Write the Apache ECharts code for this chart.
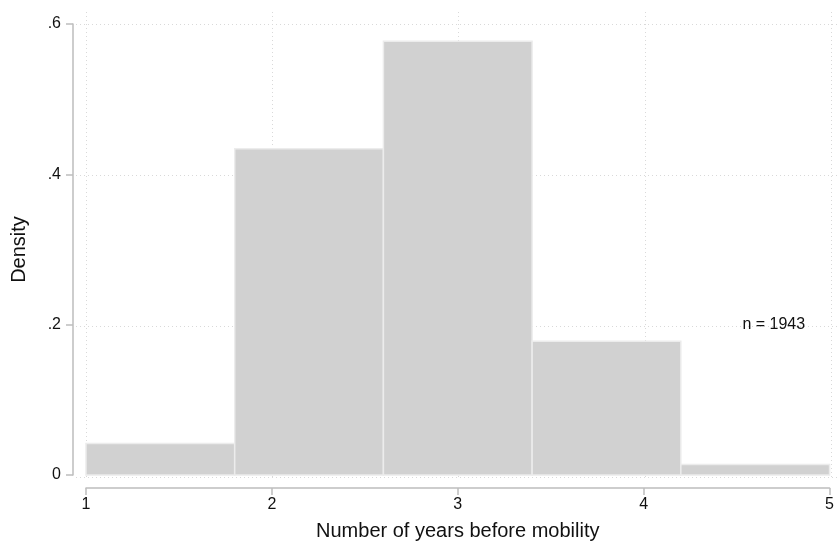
<!DOCTYPE html>
<html>
<head>
<meta charset="utf-8">
<script src="https://cdn.jsdelivr.net/npm/echarts@6/dist/echarts.min.js"></script>
<style>html,body{margin:0;padding:0;background:#fff}#c{width:837px;height:546px}</style>
</head>
<body>
<div id="c"></div>
<script>
// Histogram bins (left edge, right edge) and densities
var binStarts = [1.0, 1.8, 2.6, 3.4, 4.2];
var binEnds   = [1.8, 2.6, 3.4, 4.2, 5.0];
var densities = [0.042, 0.434, 0.577, 0.178, 0.014];
var xTickValues = [1, 2, 3, 4, 5];
var xTickLabels = ['1', '2', '3', '4', '5'];
var yTickValues = [0, 0.2, 0.4, 0.6];
var yTickLabels = ['0', '.2', '.4', '.6'];
var noteText = 'n = 1943';
var notePos = [4.7, 0.2];
var xTitle = 'Number of years before mobility';
var yTitle = 'Density';

var FONT = 'Liberation Sans, Arial, Helvetica, sans-serif';
var AXIS_COLOR = '#bdbdbd';
var GRID_COLOR = '#d9d9d9';
var TEXT_COLOR = '#111111';

function yFmt(v) {
  for (var i = 0; i < yTickValues.length; i++) {
    if (Math.abs(yTickValues[i] - v) < 1e-9) return yTickLabels[i];
  }
  return '';
}
function xFmt(v) {
  for (var i = 0; i < xTickValues.length; i++) {
    if (Math.abs(xTickValues[i] - v) < 1e-9) return xTickLabels[i];
  }
  return '';
}

var bars = binStarts.map(function (s, i) { return [s, binEnds[i], densities[i]]; });

var chart = echarts.init(document.getElementById('c'), null, {renderer: 'canvas'});
chart.setOption({
  animation: false,
  backgroundColor: '#ffffff',
  grid: [
    {left: 86, right: 5.7, top: 24, bottom: 68.5, containLabel: false},
    {left: 76, right: 0, top: 24, bottom: 68.5, containLabel: false},
    {left: 86, right: 5.7, top: 12, bottom: 66, containLabel: false}
  ],
  xAxis: [
    {
      type: 'value', gridIndex: 0, min: 1, max: 5, interval: 1,
      offset: 13,
      axisLine: {show: true, onZero: false, lineStyle: {color: AXIS_COLOR, width: 1.5}},
      axisTick: {show: true, length: 7, lineStyle: {color: AXIS_COLOR, width: 1.5}},
      axisLabel: {show: true, margin: 9, color: TEXT_COLOR, fontSize: 16, fontFamily: FONT, formatter: xFmt},
      splitLine: {show: false},
      name: xTitle, nameLocation: 'middle', nameGap: 33,
      nameTextStyle: {fontSize: 20, color: TEXT_COLOR, fontFamily: FONT}
    },
    {
      type: 'value', gridIndex: 1, min: 0, max: 1, show: true,
      axisLine: {show: false}, axisTick: {show: false}, axisLabel: {show: false},
      splitLine: {show: false}
    },
    {
      type: 'value', gridIndex: 2, min: 1, max: 5, interval: 1,
      axisLine: {show: false}, axisTick: {show: false}, axisLabel: {show: false},
      splitLine: {show: true, lineStyle: {color: GRID_COLOR, width: 1, type: [1, 3]}}
    }
  ],
  yAxis: [
    {
      type: 'value', gridIndex: 0, min: 0, max: 0.6, interval: 0.2,
      offset: 13,
      axisLine: {show: true, onZero: false, lineStyle: {color: AXIS_COLOR, width: 1.5}},
      axisTick: {show: true, length: 7, lineStyle: {color: AXIS_COLOR, width: 1.5}},
      axisLabel: {show: true, margin: 12, color: TEXT_COLOR, fontSize: 16, fontFamily: FONT, formatter: yFmt},
      splitLine: {show: false},
      name: yTitle, nameLocation: 'middle', nameGap: 44, nameRotate: 90,
      nameTextStyle: {fontSize: 20, color: TEXT_COLOR, fontFamily: FONT}
    },
    {
      type: 'value', gridIndex: 1, min: 0, max: 0.6, interval: 0.2,
      axisLine: {show: false}, axisTick: {show: false}, axisLabel: {show: false},
      splitLine: {show: true, lineStyle: {color: GRID_COLOR, width: 1, type: [1, 3]}}
    },
    {
      type: 'value', gridIndex: 2, min: 0, max: 1, show: true,
      axisLine: {show: false}, axisTick: {show: false}, axisLabel: {show: false},
      splitLine: {show: false}
    }
  ],
  series: [
    {
      type: 'custom',
      xAxisIndex: 0, yAxisIndex: 0,
      data: bars,
      z: 5,
      silent: true,
      renderItem: function (params, api) {
        var p0 = api.coord([api.value(0), api.value(2)]);
        var p1 = api.coord([api.value(1), 0]);
        return {
          type: 'rect',
          shape: {x: p0[0], y: p0[1], width: p1[0] - p0[0], height: p1[1] - p0[1]},
          style: {fill: '#d1d1d1', stroke: '#ececec', lineWidth: 1.5}
        };
      }
    },
    {
      type: 'scatter',
      xAxisIndex: 0, yAxisIndex: 0,
      symbolSize: 0,
      z: 6,
      silent: true,
      itemStyle: {color: 'transparent', opacity: 1},
      data: [notePos],
      label: {
        show: true, position: 'inside', formatter: noteText,
        fontSize: 16, color: TEXT_COLOR, fontFamily: FONT,
        textBorderWidth: 0, textBorderColor: 'transparent', opacity: 1
      }
    }
  ]
});
</script>
</body>
</html>
